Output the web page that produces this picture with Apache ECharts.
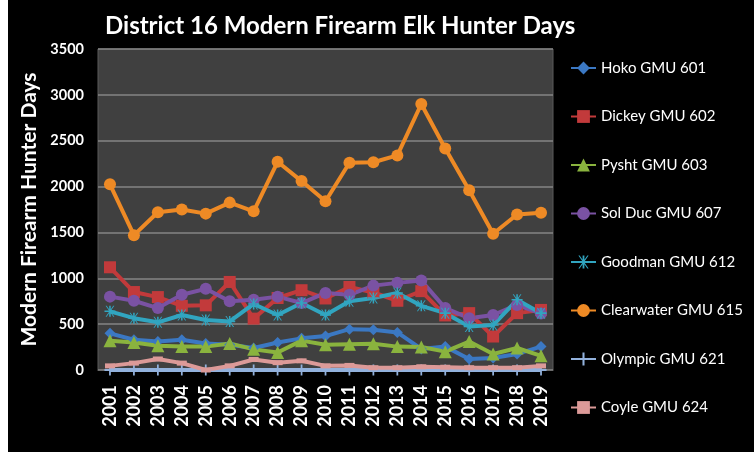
<!DOCTYPE html>
<html>
<head>
<meta charset="utf-8">
<script src="https://cdn.jsdelivr.net/npm/echarts@6/dist/echarts.min.js"></script>
<style>
  html, body { margin: 0; padding: 0; background: #ffffff; }
  #main { position: absolute; left: 8px; top: 0; width: 746px; height: 452px; background: #000000; }
</style>
</head>
<body>
<div id="main"></div>
<script>
var years = ['2001', '2002', '2003', '2004', '2005', '2006', '2007', '2008', '2009', '2010',
             '2011', '2012', '2013', '2014', '2015', '2016', '2017', '2018', '2019'];

var hoko = [400, 330, 310, 330, 290, 275, 240, 300, 345, 370, 445, 440, 410, 230, 255, 120, 130, 175, 255];
var dickey = [1120, 850, 795, 700, 705, 960, 560, 785, 870, 780, 905, 845, 755, 860, 595, 620, 365, 620, 655];
var pysht = [320, 300, 265, 255, 255, 290, 225, 190, 320, 275, 280, 285, 255, 250, 200, 310, 175, 240, 155];
var solDuc = [800, 755, 675, 820, 885, 750, 765, 800, 730, 840, 820, 920, 950, 975, 675, 565, 600, 710, 615];
var goodman = [640, 565, 520, 600, 545, 530, 720, 600, 730, 600, 750, 785, 840, 700, 620, 475, 490, 765, 620];
var clearwater = [2025, 1470, 1720, 1750, 1705, 1825, 1730, 2270, 2060, 1840, 2260, 2265, 2340, 2900, 2415, 1960, 1485, 1695, 1715];
var olympic = [0, 0, 0, 0, 0, 0, 0, 0, 0, 0, 0, 0, 0, 0, 0, 0, 0, 0, 0];
var coyle = [45, 75, 120, 75, 0, 45, 115, 80, 100, 45, 50, 25, 25, 35, 30, 25, 25, 25, 45];

var yTicks = [0, 500, 1000, 1500, 2000, 2500, 3000, 3500];

// excel style markers
var starPath = 'path://M4.3,0 L5.7,0 L5.7,10 L4.3,10 Z M0,4.3 L10,4.3 L10,5.7 L0,5.7 Z M1,0 L2,0 L9,10 L8,10 Z M8,0 L9,0 L2,10 L1,10 Z';
var plusPath = 'path://M4.2,0 L5.8,0 L5.8,10 L4.2,10 Z M0,4.2 L10,4.2 L10,5.8 L0,5.8 Z';

function line(name, data, color, symbol, size, extra) {
    var s = {
        name: name,
        type: 'line',
        data: data,
        symbol: symbol,
        symbolSize: size,
        showAllSymbol: true,
        lineStyle: { color: color, width: 4 },
        itemStyle: { color: color, borderWidth: 0 },
        emphasis: { disabled: true }
    };
    for (var k in extra) s[k] = extra[k];
    return s;
}

var myChart = echarts.init(document.getElementById('main'));

var font = 'Lato';

var option = {
    backgroundColor: '#000000',
    animation: false,
    title: {
        text: 'District 16 Modern Firearm Elk Hunter Days',
        left: 92,
        top: 9,
        textStyle: { color: '#ffffff', fontFamily: font, fontWeight: 'bold', fontSize: 24 }
    },
    legend: {
        orient: 'vertical',
        left: 557,
        top: 55,
        itemWidth: 25,
        itemHeight: 16,
        itemGap: 32.5,
        textStyle: { color: '#ffffff', fontFamily: font, fontSize: 15, lineHeight: 16 },
        data: ['Hoko GMU 601', 'Dickey GMU 602', 'Pysht GMU 603', 'Sol Duc GMU 607',
               'Goodman GMU 612', 'Clearwater GMU 615', 'Olympic GMU 621', 'Coyle GMU 624']
    },
    grid: {
        left: 90,
        right: 201,
        top: 49,
        bottom: 82,
        show: true,
        backgroundColor: '#404040',
        borderColor: '#5a5a5a',
        borderWidth: 1
    },
    xAxis: {
        type: 'category',
        data: years,
        boundaryGap: true,
        axisLine: { lineStyle: { color: '#6a6a6a' } },
        axisTick: { show: false },
        axisLabel: {
            rotate: 90,
            color: '#ffffff',
            fontFamily: font,
            fontWeight: 'bold',
            fontSize: 18,
            margin: 15,
            interval: 0
        }
    },
    yAxis: {
        type: 'value',
        min: yTicks[0],
        max: yTicks[yTicks.length - 1],
        interval: 500,
        name: 'Modern Firearm Hunter Days',
        nameLocation: 'middle',
        nameRotate: 90,
        nameGap: 47,
        nameTextStyle: { color: '#ffffff', fontFamily: font, fontWeight: 'bold', fontSize: 21 },
        axisLine: { show: false },
        axisTick: { show: false },
        splitLine: { lineStyle: { color: '#858585', width: 1.5 } },
        axisLabel: {
            color: '#ffffff', fontFamily: font, fontWeight: 'bold', fontSize: 14.5, margin: 14,
            formatter: function (v) { return String(v); }
        }
    },
    series: [
        line('Hoko GMU 601', hoko, '#3b78c3', 'diamond', 11),
        line('Dickey GMU 602', dickey, '#c23a3b', 'rect', 12),
        line('Pysht GMU 603', pysht, '#8ab33e', 'triangle', 13),
        line('Sol Duc GMU 607', solDuc, '#7a52a3', 'circle', 12),
        line('Goodman GMU 612', goodman, '#31a5c0', starPath, 11),
        line('Clearwater GMU 615', clearwater, '#ee8a25', 'circle', 12),
        line('Olympic GMU 621', olympic, '#92b1dc', plusPath, 11, { clip: false }),
        line('Coyle GMU 624', coyle, '#dc9a98', 'rect', [10, 5])
    ]
};
myChart.setOption(option);
</script>
</body>
</html>
